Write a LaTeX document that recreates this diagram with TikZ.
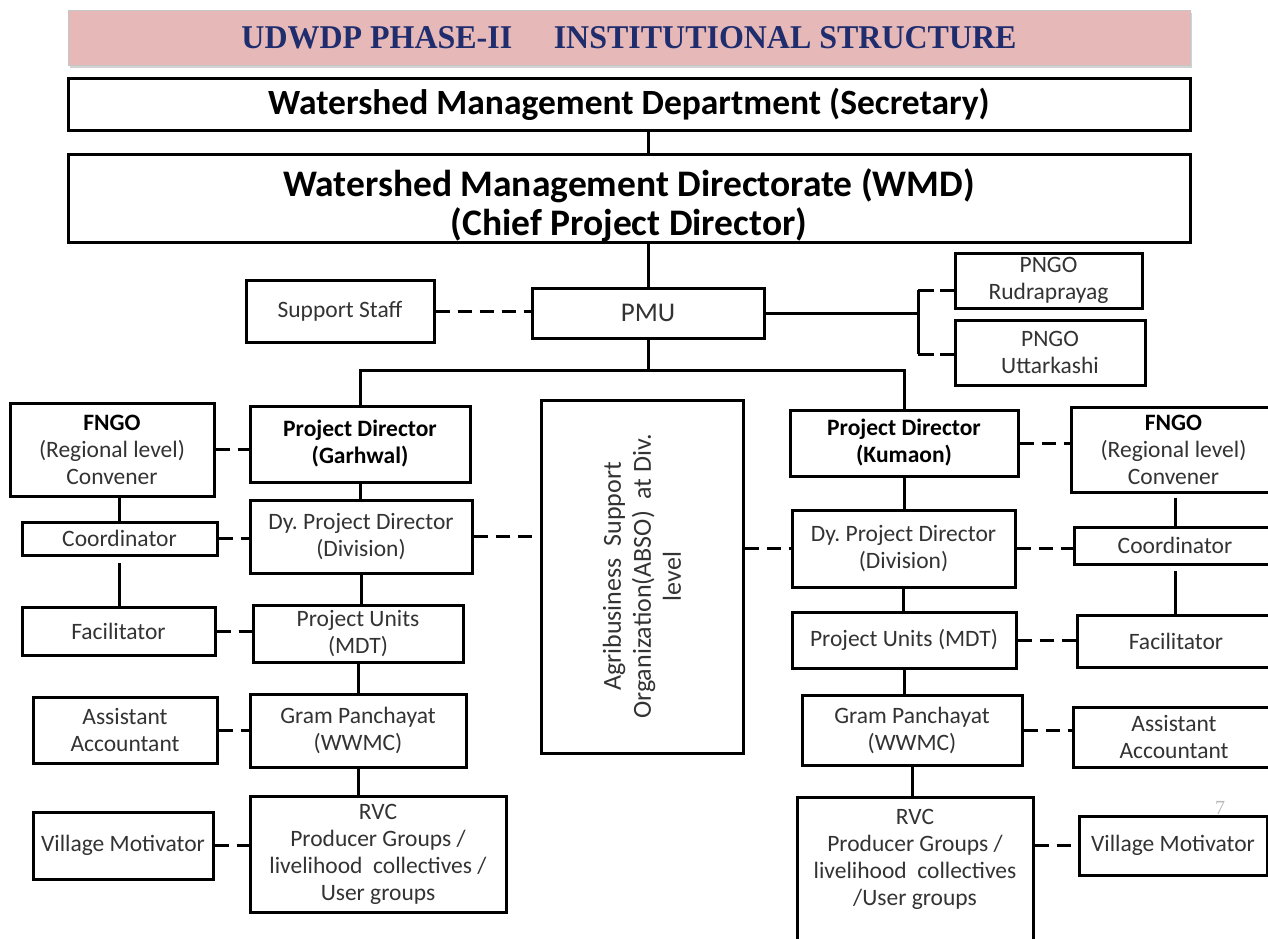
\documentclass[tikz,border=0pt]{standalone}
\usepackage{fontspec}
\setmainfont{Carlito}
\newfontfamily\titlefont{Liberation Serif}
\usetikzlibrary{shadows}
\definecolor{titlefill}{HTML}{E6B9B8}
\definecolor{titletext}{HTML}{1F2D6E}
\begin{document}
\begin{tikzpicture}[x=1pt,y=-1pt,
  bx/.style={draw=black, line width=3pt, inner sep=0pt, align=center,
    font=\fontsize{23.5}{27}\selectfont, text=black!80},
  bbx/.style={bx, font=\fontsize{23.5}{27}\selectfont\bfseries, text=black},
  link/.style={line width=3pt},
  dlink/.style={line width=3pt, dash pattern=on 14pt off 8pt},
]
\clip (0,0) rectangle (1268,938);
\fill[white] (0,0) rectangle (1268,938);

% title and top boxes
\node[draw=gray!45, line width=0.8pt, fill=titlefill, minimum width=1122pt, minimum height=55pt,
  drop shadow={shadow xshift=2pt, shadow yshift=-3pt, opacity=0.35}, text=titletext, inner sep=0pt]
  (title) at (629,37.5) {\resizebox{775pt}{22pt}{\titlefont\bfseries UDWDP PHASE-II\hspace{1.3em}INSTITUTIONAL STRUCTURE}};
\node[bx, font=\fontsize{35.5}{40}\selectfont\bfseries, text=black, minimum width=1122pt, minimum height=52pt]
  (dept) at (629,104) {Watershed Management Department (Secretary)};
\node[bx, font=\fontsize{37.5}{39}\selectfont\bfseries, text=black, minimum width=1122pt, minimum height=87pt]
  (wmd) at (629,198.5) {\rule{0pt}{42pt}Watershed Management Directorate (WMD)\\(Chief Project Director)};

% PMU level
\node[bx, minimum width=188pt, minimum height=62pt] (support) at (340,311) {Support Staff};
\node[bx, font=\fontsize{27}{30}\selectfont, minimum width=232pt, minimum height=50pt] (pmu) at (648,313) {PMU};
\node[bx, minimum width=187pt, minimum height=55pt] (png1) at (1048.5,280.5) {PNGO\\Rudraprayag};
\node[bx, minimum width=190pt, minimum height=65pt] (png2) at (1050,352.5) {PNGO\\Uttarkashi};

% left column
\node[bx, minimum width=204pt, minimum height=93pt] (fngoL) at (112,449.5) {\textbf{\color{black}FNGO}\\(Regional level)\\Convener};
\node[bbx, minimum width=220pt, minimum height=76pt] (pdg) at (360,444) {Project Director\\(Garhwal)};
\node[bx, minimum width=195pt, minimum height=33pt] (coordL) at (119.5,538.5) {Coordinator};
\node[bx, minimum width=222pt, minimum height=73pt] (dypdL) at (361,536.5) {Dy.\ Project Director\\(Division)};
\node[bx, minimum width=193pt, minimum height=48pt] (facL) at (118.5,631) {Facilitator};
\node[bx, minimum width=210pt, minimum height=57pt] (puL) at (358,633.5) {Project Units\\(MDT)};
\node[bx, minimum width=184pt, minimum height=66pt] (aaL) at (125,730) {Assistant\\Accountant};
\node[bx, minimum width=216pt, minimum height=73pt] (gpL) at (358,730.5) {Gram Panchayat\\(WWMC)};
\node[bx, minimum width=180pt, minimum height=67pt] (vmL) at (123,845.5) {Village Motivator};
\node[bx, minimum width=256pt, minimum height=116pt] (rvcL) at (378,854) {RVC\\Producer Groups /\\livelihood\ \ collectives /\\User groups};

% ABSO
\node[bx, font=\fontsize{26}{30}\selectfont, rotate=90, minimum width=353pt, minimum height=202pt] (abso) at (642,576.5)
  {Agribusiness\ \ Support\\Organization(ABSO)\ \ at Div.\\level};

% right column
\node[bbx, minimum width=228pt, minimum height=66pt] (pdk) at (904,443) {Project Director\\(Kumaon)};
\node[bx, minimum width=205pt, minimum height=85pt] (fngoR) at (1173.5,449.5) {\textbf{\color{black}FNGO}\\(Regional level)\\Convener};
\node[bx, minimum width=223pt, minimum height=77pt] (dypdR) at (903.5,548.5) {Dy.\ Project Director\\(Division)};
\node[bx, minimum width=202pt, minimum height=37pt] (coordR) at (1175,545.5) {Coordinator};
\node[bx, minimum width=224pt, minimum height=56pt] (puR) at (904,640) {Project Units (MDT)};
\node[bx, minimum width=198pt, minimum height=52pt] (facR) at (1176,641) {Facilitator};
\node[bx, minimum width=220pt, minimum height=70pt] (gpR) at (912,730) {Gram Panchayat\\(WWMC)};
\node[bx, minimum width=202pt, minimum height=60pt] (aaR) at (1174,737) {Assistant\\Accountant};
\node[bx, minimum width=236pt, minimum height=153pt] (rvcR) at (915,873.5) {RVC\\Producer Groups /\\livelihood\ \ collectives\\/User groups\\[6pt]\mbox{}};
\node[bx, minimum width=188pt, minimum height=59pt] (vmR) at (1173,845.5) {Village Motivator};
\node[text=gray!55, font=\titlefont\fontsize{20}{20}\selectfont, inner sep=0pt] (pgno) at (1220,808) {7};

% top connectors
\draw[link] (dept.south -| pmu) -- (wmd.north -| pmu);
\draw[link] (wmd.south -| pmu) -- (pmu.north);
\draw[dlink] (support.east) -- (support.east -| pmu.west);
\coordinate (bt) at (918,290);
\coordinate (bb) at (918,354);
\draw[link] (pmu.east) -- (pmu.east -| bt);
\draw[link] (bt) -- (bb);
\draw[link, dash pattern=on 16pt off 6pt] (bt) -- (bt -| png1.west);
\draw[link, dash pattern=on 16pt off 6pt] (bb) -- (bb -| png2.west);
\coordinate (bar) at (648,370);
\draw[link] (pmu.south) -- (pmu.south |- bar);
\draw[link] (pdg.north) -- (pdg.north |- bar) -- (pdk.north |- bar) -- (pdk.north);

% left connectors
\draw[dlink] (fngoL.east) -- (fngoL.east -| pdg.west);
\draw[link] (fngoL.south -| coordL) -- (coordL.north);
\draw[dlink] (coordL.east) -- (coordL.east -| dypdL.west);
\draw[link, shorten <=6pt] (coordL.south) -- (facL.north -| coordL);
\draw[dlink] (facL.east) -- (facL.east -| puL.west);
\draw[link] (pdg.south) -- (pdg.south |- dypdL.north);
\draw[link] (dypdL.south) -- (dypdL.south |- puL.north);
\draw[link] (puL.south) -- (puL.south |- gpL.north);
\draw[link] (gpL.south) -- (gpL.south |- rvcL.north);
\draw[dlink] (aaL.east) -- (aaL.east -| gpL.west);
\draw[dlink] (vmL.east) -- (vmL.east -| rvcL.west);
\draw[dlink] (dypdL.east) -- (dypdL.east -| abso.north);
\draw[dlink] (abso.south |- dypdR.west) -- (dypdR.west);

% right connectors
\draw[dlink] (pdk.east) -- (pdk.east -| fngoR.west);
\draw[link, shorten <=4pt] (fngoR.south -| coordR) -- (coordR.north);
\draw[dlink] (dypdR.east) -- (dypdR.east -| coordR.west);
\draw[link, shorten <=5pt] (coordR.south) -- (facR.north -| coordR);
\draw[dlink] (puR.east) -- (puR.east -| facR.west);
\draw[link] (pdk.south) -- (pdk.south |- dypdR.north);
\draw[link] (dypdR.south) -- (dypdR.south |- puR.north);
\draw[link] (puR.south) -- (puR.south |- gpR.north);
\draw[link] (gpR.south) -- (gpR.south |- rvcR.north);
\draw[dlink] (gpR.east) -- (gpR.east -| aaR.west);
\draw[dlink] (rvcR.east |- vmR) -- (vmR.west);
\end{tikzpicture}
\end{document}
